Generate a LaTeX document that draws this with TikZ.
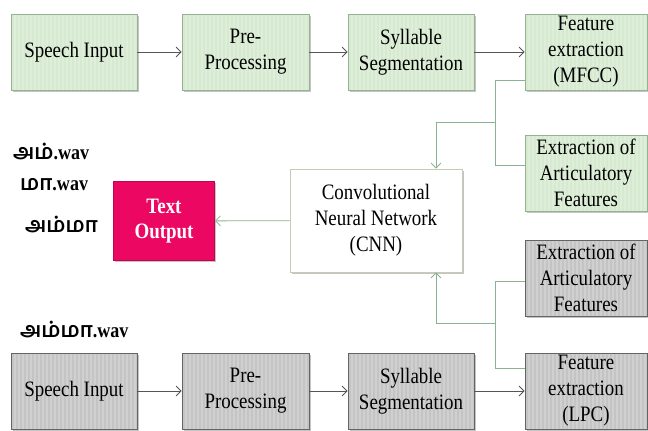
\documentclass[tikz,border=0pt]{standalone}
\usepackage{fontspec}
\setmainfont{Liberation Serif}[FakeStretch=0.86]
\newfontfamily\tamil[Script=Tamil]{Hind Madurai}
\usetikzlibrary{shadows,arrows.meta}
\definecolor{grnfill}{RGB}{214,234,208}
\definecolor{grnline}{RGB}{150,178,148}
\definecolor{gryfill}{RGB}{196,196,196}
\definecolor{gryline}{RGB}{100,100,100}
\definecolor{outfill}{RGB}{236,8,98}
\definecolor{cnnline}{RGB}{200,202,178}
\definecolor{flowcol}{RGB}{85,85,85}
\definecolor{linkcol}{RGB}{140,178,148}

\begin{document}
\begin{tikzpicture}[x=1pt,y=1pt,
  blk/.style={draw,line width=0.8pt,minimum height=76pt,inner sep=2pt,align=center,
    font=\fontsize{22}{26}\selectfont,
    drop shadow={shadow xshift=1.5pt,shadow yshift=-2pt,fill=black!45}},
  stripes/.style={path picture={\foreach \k in {0,...,33}
    \draw[white,opacity=0.22,line width=1.2pt]
      ([xshift=\k*4pt]path picture bounding box.south west) --
      ([xshift=\k*4pt]path picture bounding box.north west);}},
  grn/.style={blk,stripes,fill=grnfill,draw=grnline},
  gry/.style={blk,stripes,fill=gryfill,draw=gryline},
  flow/.style={-{Straight Barb[length=5pt,width=10pt]},draw=flowcol,line width=0.8pt},
  link/.style={draw=linkcol,line width=0.8pt},
  tip/.style={-{Straight Barb[length=5pt,width=10pt]}},
  wav/.style={anchor=west,inner sep=0pt,font=\fontsize{21}{22}\selectfont\bfseries}]
  \useasboundingbox (0,0) rectangle (648,431);

  % top row (MFCC)
  \node[grn,minimum width=126pt] (sp1) at (74,379) {Speech Input};
  \node[grn,minimum width=127pt] (pre1) at (245.5,379) {Pre-\\Processing};
  \node[grn,minimum width=126pt] (syl1) at (411,379) {Syllable\\Segmentation};
  \node[grn,minimum width=122pt] (mfcc) at (586,379) {Feature\\extraction\\(MFCC)};
  \node[grn,minimum width=122pt] (art1) at (586,258) {Extraction of\\Articulatory\\Features};

  % middle
  \node[blk,fill=white,draw=cnnline,minimum width=172pt,minimum height=103pt] (cnn) at (376,210.5)
    {Convolutional\\Neural Network\\(CNN)};
  \node[blk,fill=outfill,draw=outfill!80!black,text=white,minimum width=101pt,minimum height=79pt,
    font=\fontsize{22}{25}\selectfont\bfseries] (out) at (164,210) {Text\\Output};

  % bottom row (LPC)
  \node[gry,minimum width=122pt] (art2) at (586,153) {Extraction of\\Articulatory\\Features};
  \node[gry,minimum width=126pt] (sp2) at (74,40) {Speech Input};
  \node[gry,minimum width=127pt] (pre2) at (245.5,40) {Pre-\\Processing};
  \node[gry,minimum width=126pt] (syl2) at (411,40) {Syllable\\Segmentation};
  \node[gry,minimum width=122pt] (lpc) at (586,40) {Feature\\extraction\\(LPC)};

  % file names
  \node[wav] (w1) at (13,279) {{\tamil அம்}.wav};
  \node[wav] (w2) at (20,246) {{\tamil மா}.wav};
  \node[wav] (w3) at (25,206) {\tamil அம்மா};
  \node[wav] (w4) at (20,101) {{\tamil அம்மா}.wav};

  \coordinate (jt) at (495,309);
  \coordinate (jb) at (495,108);

  \path[flow] (sp1) edge (pre1) (pre1) edge (syl1) (syl1) edge (mfcc);
  \path[flow] (sp2) edge (pre2) (pre2) edge (syl2) (syl2) edge (lpc);

  \draw[link] ([yshift=-28pt]mfcc.west) -| (jt);
  \draw[link] ([yshift=8pt]art1.west) -| (jt);
  \draw[link,tip] (jt) -| ([xshift=60pt]cnn.north);
  \draw[link] ([yshift=-3pt]art2.west) -| (jb);
  \draw[link] ([yshift=23pt]lpc.west) -| (jb);
  \draw[link,tip] (jb) -| ([xshift=60pt]cnn.south);
  \draw[link,tip] (cnn) -- (out);
\end{tikzpicture}
\end{document}
